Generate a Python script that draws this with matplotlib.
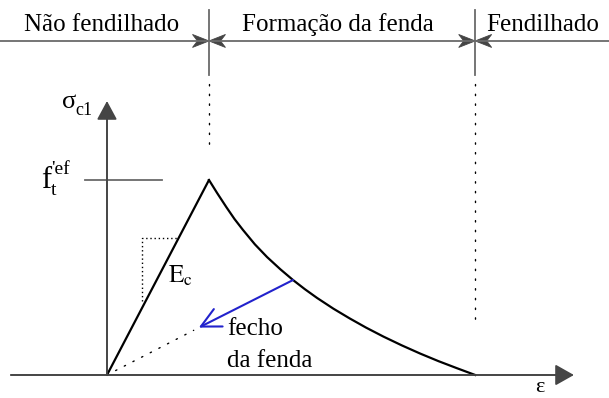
import numpy as np
import matplotlib
matplotlib.use("Agg")
import matplotlib.pyplot as plt
from matplotlib.patches import Polygon
from matplotlib.transforms import ScaledTranslation

plt.rcParams['font.family'] = ['Liberation Serif', 'DejaVu Serif']
plt.rcParams['mathtext.fontset'] = 'stix'

# --- diagram values (eps, sigma normalised to the peak) ---
eps_peak, sig_peak = 1.0, 1.0
eps_rise = [0.0, eps_peak]
sig_rise = [0.0, sig_peak]

# softening branch
eps_soft = [1.0, 1.08, 1.17, 1.25, 1.333, 1.45, 1.569, 1.70, 1.824, 1.94,
            2.06, 2.22, 2.38, 2.54, 2.71, 2.89, 3.07, 3.25, 3.43, 3.61]
sig_soft = [1.0, 0.933, 0.861, 0.800, 0.744, 0.670, 0.605, 0.542, 0.487, 0.440,
            0.395, 0.340, 0.290, 0.243, 0.197, 0.152, 0.110, 0.071, 0.035, 0.0]

# unloading (crack closing) arrow and dotted return to origin
unload_start = (1.824, 0.487)
unload_end = (0.90, 0.243)
return_eps = [0.0, 0.85]
return_sig = [0.0, 0.229]

# stage boundaries and labels
bounds = [1.0, 3.61]
stages = ['Não fendilhado', 'Formação da fenda', 'Fendilhado']
stage_x = [-0.05, 2.265, 4.275]

fig = plt.figure(figsize=(6.09, 3.98), dpi=100)
ax = fig.add_axes([0, 0, 1, 1])
ax.set_xlim(-1.049, 4.922)
ax.set_ylim(-0.118, 1.923)
ax.axis('off')

grey = '#6a6a6a'
head = '#454545'

# axes with filled heads
ax.annotate('', xy=(4.578, 0), xytext=(-0.94, 0),
            arrowprops=dict(arrowstyle='-|>,head_length=1.15,head_width=0.65',
                            mutation_scale=10, color=head, lw=1.3,
                            shrinkA=0, shrinkB=0))
ax.annotate('', xy=(0, 1.405), xytext=(0, 0),
            arrowprops=dict(arrowstyle='-|>,head_length=1.15,head_width=0.62',
                            mutation_scale=10, color=head, lw=1.3,
                            shrinkA=0, shrinkB=0))
ax.plot([0, 0], [0, 1.35], color=grey, lw=1.3)
ax.plot([-0.94, 4.5], [0, 0], color=grey, lw=1.3)

# f_t reference line
ax.plot([-0.216, 0.539], [sig_peak, sig_peak], color=grey, lw=1.3)

# constitutive curve
ax.plot(eps_rise, sig_rise, color='black', lw=1.6, solid_capstyle='round')
ax.plot(eps_soft, sig_soft, color='black', lw=1.6, solid_joinstyle='round')

# slope marker for E_c
ax.plot([0.343, 0.343, 0.70], [0.38, 0.703, 0.703], color='black', lw=1.0,
        linestyle=(0, (1, 2)))

# crack closing
ax.plot(return_eps, return_sig, color='black', lw=1.0, linestyle=(0, (1, 6)),
        dash_capstyle='round')
ax.annotate('', xy=unload_end, xytext=unload_start,
            arrowprops=dict(arrowstyle='->,head_length=1.4,head_width=0.7',
                            mutation_scale=10, color='#2222cc', lw=1.5,
                            shrinkA=0, shrinkB=0))

# header band
y_band = 1.713
ax.plot([-1.06, 4.93], [y_band, y_band], color=grey, lw=1.3)
dot_ends = [1.149, 0.282]
for b, d_end in zip(bounds, dot_ends):
    ax.plot([b, b], [1.538, 1.872], color=grey, lw=1.3)
    ax.plot([b, b], [1.49, d_end], color='black', lw=1.0, linestyle=(0, (1, 6)),
            dash_capstyle='round')
    for sgn in (1, -1):
        tr = fig.dpi_scale_trans + ScaledTranslation(b, y_band, ax.transData)
        L, h, n = 0.165, 0.065, 0.05
        verts = [(0, 0), (-sgn * L, h), (-sgn * (L - n), 0), (-sgn * L, -h)]
        ax.add_patch(Polygon(verts, closed=True, transform=tr, facecolor=head,
                             edgecolor=head, lw=0.6))

for txt, x in zip(stages, stage_x):
    ax.text(x, 1.795, txt, ha='center', va='center', fontsize=18)

# axis label sigma_c1
ax.text(-0.30, 1.37, 'σ', ha='right', va='baseline', fontsize=19)
ax.annotate('c1', xy=(-0.31, 1.37), xytext=(0, -5), textcoords='offset points',
            ha='left', va='baseline', fontsize=13)

# f_t'ef label
ax.text(-0.65, 0.96, 'f', ha='left', va='baseline', fontsize=22)
ax.annotate('t', xy=(-0.555, 0.96), xytext=(0, -5), textcoords='offset points',
            ha='left', va='baseline', fontsize=14)
ax.annotate("'ef", xy=(-0.545, 0.96), xytext=(0, 10), textcoords='offset points',
            ha='left', va='baseline', fontsize=14)

ax.text(0.598, 0.472, r'$\mathrm{E}_{\mathrm{c}}$', ha='left', va='baseline',
        fontsize=18)
ax.text(1.176, 0.205, 'fecho', ha='left', va='baseline', fontsize=18)
ax.text(1.176, 0.041, 'da fenda', ha='left', va='baseline', fontsize=18)
ax.text(4.245, -0.088, 'ε', ha='center', va='baseline', fontsize=16)

fig.savefig('out.png', dpi=100, facecolor='white')
